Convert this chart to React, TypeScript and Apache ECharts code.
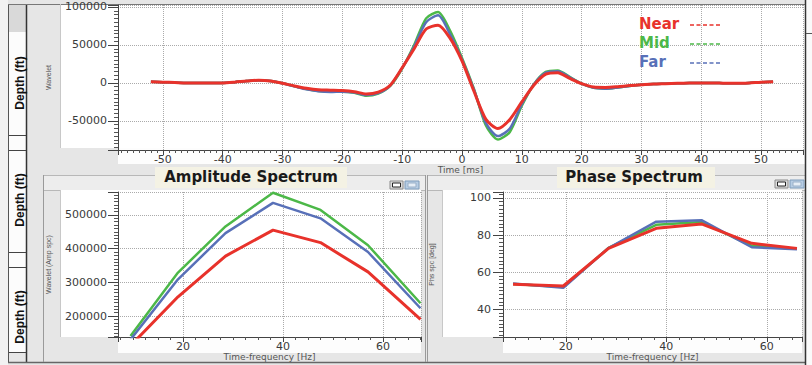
import React, { useEffect, useRef } from "react";
import * as echarts from "echarts";

// ---------- DATA ----------
const timeMs = [
  -52, -50, -48, -46, -44, -42, -40, -38, -36, -34, -32, -30, -28, -26, -24, -22, -20, -18, -16, -14, -12,
  -10, -8, -6, -4, -2, 0, 2, 4, 6, 8, 10, 12, 14, 16, 18, 20, 22, 24, 26, 28, 30, 32, 34, 36, 38, 40,
  42, 44, 46, 48, 50, 52,
];
const nearWavelet = [
  1500, 1000, 500, 0, 0, 0, 0, 1000, 2500, 3500, 2500, -500, -4000, -7000, -9000, -9500, -10000, -11500, -14500, -12000, -3000,
  20000, 45000, 71000, 76000, 59000, 29000, -11000, -48000, -60000, -48000, -25000, -3000, 11500, 13500, 6000, -1000, -5500, -6000, -5000, -3500, -2500, -1500, -1000, -500, 0, 0,
  0, -500, -500, 0, 1000, 1500,
];
const midWavelet = [
  1500, 1000, 500, 0, 0, 0, 0, 1000, 2500, 3500, 2500, -500, -4500, -8000, -10500, -11500, -11500, -13000, -17000, -14000, -4000,
  19000, 50000, 85000, 93500, 69000, 33000, -8000, -56000, -74500, -64500, -30000, -2000, 14500, 16500, 8000, -1000, -6500, -7500, -6000, -4000, -2500, -1500, -1000, -500, 0, 0,
  0, -500, -500, 0, 1000, 1500,
];
const farWavelet = [
  1500, 1000, 500, 0, 0, 0, 0, 1000, 2500, 3500, 2500, -500, -4500, -8500, -11000, -12000, -11500, -12500, -16000, -13500, -3500,
  19500, 48000, 80000, 89000, 64000, 31000, -9000, -53000, -70000, -60000, -28000, -2000, 13500, 15500, 7500, -1000, -6500, -7500, -6000, -4000, -2500, -1500, -1000, -500, 0, 0,
  0, -500, -500, 0, 1000, 1500,
];

const ampFreq = [9.5, 19, 28.5, 38, 47.5, 57, 67.5];
const nearAmp = [112000, 257000, 378000, 455000, 418000, 331000, 190000];
const midAmp = [141000, 329000, 466000, 566000, 515000, 410000, 238000];
const farAmp = [130000, 309000, 446000, 536000, 490000, 390000, 223000];

const phaseFreq = [9.5, 19.5, 28.5, 38, 47, 57, 66];
const nearPhase = [53.5, 52.5, 72.8, 83.6, 86, 75.5, 72.8];
const midPhase = [53.6, 52, 73, 85.5, 87, 74.2, 72.6];
const farPhase = [53.8, 51.5, 73, 87.2, 88, 73.4, 72.3];

const legendNames = ["Near", "Mid", "Far"];
const panelTitles = ["Amplitude Spectrum", "Phase Spectrum"];
const depthLabel = "Depth (ft)";

// ---------- STYLE ----------
const RED = "#e8322b";
const GREEN = "#4cb848";
const BLUE = "#5870b8";
const FONT = "DejaVu Sans";

const zip = (xs: number[], ys: number[]) => xs.map((x, i) => [x, ys[i]]);

function xAxisOf(grid: number, min: number, max: number, split: number, step: number, minorSplit: number, name: string, gap: number) {
  return {
    type: "value",
    gridIndex: grid,
    min,
    max,
    splitNumber: split,
    name,
    nameLocation: "middle",
    nameGap: gap,
    nameTextStyle: { fontSize: 9, color: "#555", fontFamily: FONT },
    axisLine: { show: true, onZero: false, lineStyle: { color: "#444", width: 1 } },
    axisTick: { show: true, length: 5, lineStyle: { color: "#444" } },
    minorTick: { show: true, splitNumber: minorSplit, length: 3, lineStyle: { color: "#555" } },
    axisLabel: {
      color: "#3a3a3a",
      fontSize: 11,
      fontFamily: FONT,
      margin: 4,
      formatter: (v: number) => (Math.abs(v % step) < 1e-6 ? String(v) : ""),
    },
    splitLine: { show: true, lineStyle: { type: "dotted", color: "#aaaaaa", width: 1 } },
  };
}

function yAxisOf(grid: number, min: number, max: number, step: number, name: string, gap: number, margin: number) {
  return {
    type: "value",
    gridIndex: grid,
    min,
    max,
    splitNumber: 4,
    name,
    nameLocation: "middle",
    nameGap: gap,
    nameRotate: 90,
    nameTextStyle: { fontSize: 7, color: "#555", fontFamily: "Liberation Sans" },
    axisLine: { show: true, onZero: false, lineStyle: { color: "#444", width: 1 } },
    axisTick: { show: true, length: 10, lineStyle: { color: "#444" } },
    minorTick: { show: true, splitNumber: 10, length: 4, lineStyle: { color: "#555" } },
    axisLabel: {
      color: "#3a3a3a",
      fontSize: 11,
      fontFamily: FONT,
      margin,
      formatter: (v: number) => (Math.abs(v % step) < 1e-6 ? String(v) : ""),
    },
    splitLine: { show: true, lineStyle: { type: "dotted", color: "#aaaaaa", width: 1 } },
  };
}

function lineSeries(name: string, x: number, y: number, data: number[][], color: string, width: number, smooth: number | boolean) {
  return {
    type: "line",
    name,
    xAxisIndex: x,
    yAxisIndex: y,
    data,
    showSymbol: false,
    symbol: "none",
    smooth,
    clip: true,
    lineStyle: { color, width },
    itemStyle: { color },
  };
}

const rect = (x: number, y: number, w: number, h: number, fill: string, stroke?: string, z = -5) => ({
  type: "rect",
  z,
  silent: true,
  shape: { x, y, width: w, height: h },
  style: { fill, stroke: stroke || null, lineWidth: 1 },
});
const line = (x1: number, y1: number, x2: number, y2: number, stroke: string, lineWidth = 1, z = -3) => ({
  type: "line",
  z,
  silent: true,
  shape: { x1, y1, x2, y2 },
  style: { stroke, lineWidth },
});
const text = (x: number, y: number, t: string, font: string, fill: string, rotation = 0, align = "center", z = 6) => ({
  type: "text",
  x,
  y,
  z,
  rotation,
  silent: true,
  style: { text: t, font, fill, textAlign: align, textVerticalAlign: "middle" },
});

function icons(x: number, y: number) {
  return [
    rect(x, y, 13, 8, "#dcdcdc", "#8a8a8a", 4),
    rect(x + 2.5, y + 2, 8, 4, "#ffffff", "#222222", 5),
    rect(x + 15, y, 14, 8, "#b7cde4", "#7f9cba", 4),
    rect(x + 18, y + 2, 8, 4, "#e6eef6", "#9ab0c8", 5),
  ];
}

export default function App() {
  const ref = useRef<HTMLDivElement>(null);

  useEffect(() => {
    document.body.style.margin = "0";
    if (!ref.current) return;
    const chart = echarts.init(ref.current, undefined, { renderer: "svg" });

    const colors = [RED, GREEN, BLUE];
    const legendY = [24, 43, 62];

    const graphicEls: any[] = [
      // page chrome backgrounds
      rect(0, 0, 8, 365, "#f2f2f2", undefined, -8),
      rect(9, 4, 17, 28, "#d9d9d9", undefined, -6),
      rect(9, 32, 17, 320, "#fcfcfc", undefined, -6),
      rect(806, 0, 6, 365, "#fafafa", undefined, -6),
      // top panel
      rect(61, 4, 744, 144, "#ffffff"),
      rect(118, 148, 687, 16, "#fdfdfd"),
      // bottom panel headers
      rect(43.5, 175.5, 382, 15, "#ededed", "#b8b8b8", -6),
      rect(427.5, 175.5, 378, 15, "#ededed", "#b8b8b8", -6),
      rect(155, 167, 192, 21, "#f4f2e4", undefined, -4),
      rect(557, 167, 158, 21, "#f4f2e4", undefined, -4),
      // amplitude panel
      rect(61, 190, 360, 147, "#ffffff"),
      rect(118, 337, 303, 16, "#fdfdfd"),
      // phase panel
      rect(443, 190, 359, 147, "#ffffff"),
      rect(503, 337, 299, 16, "#fdfdfd"),
      // frame lines
      line(8.5, 4, 8.5, 363, "#555555", 1),
      line(26.5, 4, 26.5, 363, "#333333", 1.5),
      line(8, 4.5, 805, 4.5, "#777777", 1),
      line(8, 362.5, 805, 362.5, "#666666", 1.5),
      line(805.5, 0, 805.5, 365, "#333333", 1.5),
      line(806, 33.5, 812, 33.5, "#555555", 1),
      line(9, 135.5, 26, 135.5, "#444444", 1),
      line(9, 150.5, 26, 150.5, "#444444", 1),
      line(9, 252.5, 26, 252.5, "#444444", 1),
      line(9, 267.5, 26, 267.5, "#444444", 1),
      line(9, 352.5, 26, 352.5, "#444444", 1),
      line(43.5, 175, 43.5, 362, "#9a9a9a", 1),
      line(425.5, 175, 425.5, 362, "#9a9a9a", 1),
      line(427.5, 175, 427.5, 362, "#9a9a9a", 1),
      line(60.5, 4, 60.5, 148, "#c8c8c8", 1),
      line(60.5, 190, 60.5, 337, "#c8c8c8", 1),
      line(442.5, 190, 442.5, 337, "#c8c8c8", 1),
      // depth labels
      text(20, 83, depthLabel, 'bold 12px "Liberation Sans"', "#111111", Math.PI / 2),
      text(20, 200, depthLabel, 'bold 12px "Liberation Sans"', "#111111", Math.PI / 2),
      text(20, 317, depthLabel, 'bold 12px "Liberation Sans"', "#111111", Math.PI / 2),
      // panel titles
      text(251, 177, panelTitles[0], `bold 15px "${FONT}"`, "#1a1a1a"),
      text(634, 177, panelTitles[1], `bold 15px "${FONT}"`, "#1a1a1a"),
      ...icons(390, 181),
      ...icons(775, 180),
    ];

    legendNames.forEach((n, i) => {
      graphicEls.push(text(639, legendY[i], n, `bold 15px "${FONT}"`, colors[i], 0, "left", 10));
      graphicEls.push({
        type: "line",
        z: 10,
        silent: true,
        shape: { x1: 690, y1: legendY[i] + 1, x2: 722, y2: legendY[i] + 1 },
        style: { stroke: colors[i], lineWidth: 1.5, lineDash: [4, 2.5] },
      });
    });

    const option: any = {
      animation: false,
      backgroundColor: "#e6e6e6",
      textStyle: { fontFamily: FONT },
      grid: [
        { left: 118, top: 5, width: 685, height: 145 },
        { left: 118, top: 192, width: 303, height: 145 },
        { left: 503, top: 192, width: 299, height: 145 },
      ],
      xAxis: [
        xAxisOf(0, -57.5, 57, 11, 10, 10, "Time [ms]", 13),
        xAxisOf(1, 7, 67.6, 3, 20, 8, "Time-frequency [Hz]", 15),
        xAxisOf(2, 7.5, 67, 3, 20, 8, "Time-frequency [Hz]", 15),
      ],
      yAxis: [
        yAxisOf(0, -88300, 102600, 50000, "Wavelet", 66, 11),
        yAxisOf(1, 137700, 568200, 100000, "Wavelet (Amp spc)", 66, 11),
        yAxisOf(2, 25, 103.2, 20, "Phs spc [deg]", 68, 12),
      ],
      series: [
        lineSeries("Mid", 0, 0, zip(timeMs, midWavelet), GREEN, 2.5, 0.25),
        lineSeries("Far", 0, 0, zip(timeMs, farWavelet), BLUE, 2.5, 0.25),
        lineSeries("Near", 0, 0, zip(timeMs, nearWavelet), RED, 3, 0.25),
        lineSeries("Mid", 1, 1, zip(ampFreq, midAmp), GREEN, 2.5, false),
        lineSeries("Far", 1, 1, zip(ampFreq, farAmp), BLUE, 2.5, false),
        lineSeries("Near", 1, 1, zip(ampFreq, nearAmp), RED, 3, false),
        lineSeries("Mid", 2, 2, zip(phaseFreq, midPhase), GREEN, 2.5, false),
        lineSeries("Far", 2, 2, zip(phaseFreq, farPhase), BLUE, 2.5, false),
        lineSeries("Near", 2, 2, zip(phaseFreq, nearPhase), RED, 3, false),
      ],
      graphic: { elements: graphicEls },
    };

    chart.setOption(option);
    return () => chart.dispose();
  }, []);

  return <div ref={ref} style={{ width: 812, height: 365 }} />;
}
